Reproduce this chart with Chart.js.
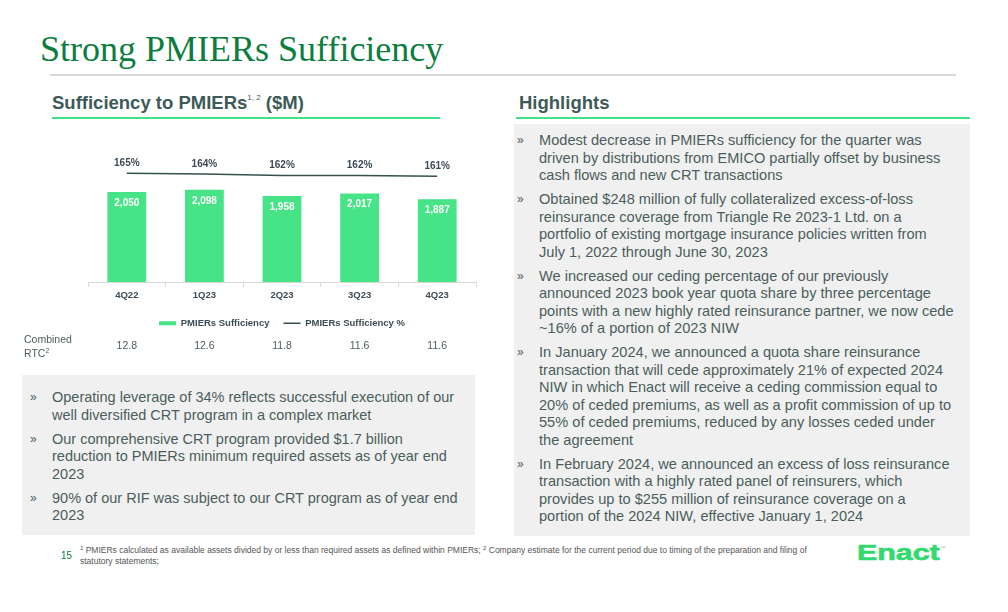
<!DOCTYPE html>
<html>
<head>
<meta charset="utf-8">
<script src="https://cdn.jsdelivr.net/npm/chart.js@4.4.0/dist/chart.umd.min.js"></script>
<style>
  body { margin: 0; width: 1008px; height: 612px; background: #fff; position: relative; overflow: hidden; font-family: "Liberation Sans", Arial, sans-serif; }
  .abs { position: absolute; }
  #title { left: 40px; top: 28px; font-family: "Liberation Serif", serif; font-size: 36px; color: #0b7d3e; white-space: nowrap; }
  #rule { left: 50px; top: 74px; width: 906px; height: 2px; background: #d9d9d9; }
  .head { font-weight: bold; font-size: 18.5px; color: #3d5a58; white-space: nowrap; }
  .head sup { font-size: 8px; font-weight: normal; vertical-align: 9px; }
  .uline { height: 2px; background: #3ee388; }
  .box { background: #f0f0f0; }
  .bul { color: #4b5e5b; white-space: nowrap; line-height: 17.5px; }
  .bul p { margin: 0 0 6.5px 0; position: relative; padding-left: 22px; }
  .bul p::before { content: "»"; position: absolute; left: 0; top: 0; font-size: 12px; }
  #rtcLabel { left: 24px; top: 333px; font-size: 10.5px; color: #4b5e5b; line-height: 12px; }
  #rtcLabel sup { font-size: 7px; vertical-align: 4px; }
  #foot { left: 80px; top: 543px; font-family: "Liberation Sans Narrow", "Liberation Sans", sans-serif; font-size: 8.5px; color: #555; line-height: 10.5px; white-space: nowrap; }
  #foot sup { font-size: 6px; vertical-align: 3px; }
  #page { left: 61px; top: 550px; font-size: 10px; color: #0b7d3e; }
  #logo { left: 857px; top: 540px; font-size: 22px; font-weight: bold; color: #33d86e; transform: scaleX(1.38); transform-origin: left top; white-space: nowrap; -webkit-text-stroke: 0.6px #33d86e; }
  #logo sup { font-size: 4px; vertical-align: 11px; font-weight: normal; -webkit-text-stroke: 0; }
</style>
</head>
<body>
<div id="title" class="abs">Strong PMIERs Sufficiency</div>
<div id="rule" class="abs"></div>

<div class="abs head" style="left:52px; top:92px;">Sufficiency to PMIERs<sup>1, 2</sup> ($M)</div>
<div class="abs uline" style="left:52px; top:117px; width:388px;"></div>
<div class="abs head" style="left:519px; top:92px;">Highlights</div>
<div class="abs uline" style="left:516px; top:117px; width:454px;"></div>

<div class="abs" style="left:0; top:130px; width:490px; height:240px;">
  <canvas id="chart"></canvas>
</div>
<div id="rtcLabel" class="abs">Combined<br>RTC<sup>2</sup></div>

<div class="abs box" style="left:22px; top:375px; width:453px; height:160px;"></div>
<div class="abs bul" style="left:30px; top:389px; font-size:14.5px;">
  <p>Operating leverage of 34% reflects successful execution of our<br>well diversified CRT program in a complex market</p>
  <p>Our comprehensive CRT program provided $1.7 billion<br>reduction to PMIERs minimum required assets as of year end<br>2023</p>
  <p>90% of our RIF was subject to our CRT program as of year end<br>2023</p>
</div>

<div class="abs box" style="left:514px; top:124px; width:456px; height:412px;"></div>
<div class="abs bul" style="left:517px; top:132px; font-size:14.6px;">
  <p>Modest decrease in PMIERs sufficiency for the quarter was<br>driven by distributions from EMICO partially offset by business<br>cash flows and new CRT transactions</p>
  <p>Obtained $248 million of fully collateralized excess-of-loss<br>reinsurance coverage from Triangle Re 2023-1 Ltd. on a<br>portfolio of existing mortgage insurance policies written from<br>July 1, 2022 through June 30, 2023</p>
  <p>We increased our ceding percentage of our previously<br>announced 2023 book year quota share by three percentage<br>points with a new highly rated reinsurance partner, we now cede<br>~16% of a portion of 2023 NIW</p>
  <p>In January 2024, we announced a quota share reinsurance<br>transaction that will cede approximately 21% of expected 2024<br>NIW in which Enact will receive a ceding commission equal to<br>20% of ceded premiums, as well as a profit commission of up to<br>55% of ceded premiums, reduced by any losses ceded under<br>the agreement</p>
  <p>In February 2024, we announced an excess of loss reinsurance<br>transaction with a highly rated panel of reinsurers, which<br>provides up to $255 million of reinsurance coverage on a<br>portion of the 2024 NIW, effective January 1, 2024</p>
</div>

<div id="page" class="abs">15</div>
<div id="foot" class="abs"><sup>1</sup> PMIERs calculated as available assets divided by or less than required assets as defined within PMIERs; <sup>2</sup> Company estimate for the current period due to timing of the preparation and filing of<br>statutory statements;</div>
<div id="logo" class="abs">Enact<sup>™</sup></div>

<script>
// Chart data
const quarters = ["4Q22", "1Q23", "2Q23", "3Q23", "4Q23"];
const sufficiency = [2050, 2098, 1958, 2017, 1887];
const sufficiencyPct = [165, 164, 162, 162, 161];
const combinedRtc = ["12.8", "12.6", "11.8", "11.6", "11.6"];

const labelColor = "#3c4b55";

// Value labels on bars and line, plus the RTC row under the legend
const valueLabels = {
    id: "valueLabels",
    afterDatasetsDraw(chart) {
        const ctx = chart.ctx;
        const barMeta = chart.getDatasetMeta(0);
        const lineMeta = chart.getDatasetMeta(1);
        ctx.save();
        ctx.textAlign = "center";
        ctx.textBaseline = "middle";
        ctx.font = "bold 10px 'Liberation Sans', Arial, sans-serif";
        barMeta.data.forEach((bar, i) => {
            ctx.fillStyle = "#ffffff";
            ctx.fillText(sufficiency[i].toLocaleString("en-US"), bar.x, bar.y + 11);
        });
        lineMeta.data.forEach((pt, i) => {
            ctx.fillStyle = labelColor;
            ctx.fillText(sufficiencyPct[i] + "%", pt.x, pt.y - 10);
        });
        ctx.font = "10.5px 'Liberation Sans', Arial, sans-serif";
        ctx.fillStyle = "#4b5e5b";
        const xScale = chart.scales.x;
        combinedRtc.forEach((v, i) => {
            ctx.fillText(v, xScale.getPixelForValue(i), 216);
        });
        ctx.restore();
    }
};

const ctx = document.getElementById("chart").getContext("2d");
const chart = new Chart(ctx, {
    type: "bar",
    data: {
        labels: quarters,
        datasets: [
            {
                type: "bar",
                label: "PMIERs Sufficiency",
                data: sufficiency,
                backgroundColor: "#46e486",
                borderWidth: 0,
                categoryPercentage: 1,
                barPercentage: 0.5,
                pointStyle: "rect",
                yAxisID: "y",
            },
            {
                type: "line",
                label: "PMIERs Sufficiency %",
                data: sufficiencyPct,
                borderColor: "#34514f",
                backgroundColor: "#34514f",
                borderWidth: 1.5,
                pointRadius: 0,
                pointStyle: "line",
                yAxisID: "y2",
            },
        ],
    },
    options: {
        responsive: true,
        maintainAspectRatio: false,
        animation: false,
        layout: { padding: { left: 88, right: 14, top: 29, bottom: 32 } },
        scales: {
            x: {
                grid: { display: true, drawOnChartArea: false, tickLength: 5, color: "#d9d9d9" },
                border: { color: "#d9d9d9" },
                ticks: { color: labelColor, font: { family: "'Liberation Sans', Arial", size: 9.5, weight: "bold" }, padding: 3 },
            },
            y: { display: false, min: 0, max: 2800 },
            y2: { display: false, min: 20, max: 184 },
        },
        plugins: {
            legend: {
                position: "bottom",
                labels: {
                    usePointStyle: true,
                    pointStyleWidth: 17,
                    boxHeight: 4,
                    padding: 14,
                    color: labelColor,
                    font: { family: "'Liberation Sans', Arial", size: 9.5, weight: "bold" },
                },
            },
            tooltip: { enabled: false },
        },
    },
    plugins: [valueLabels],
});
</script>
</body>
</html>
